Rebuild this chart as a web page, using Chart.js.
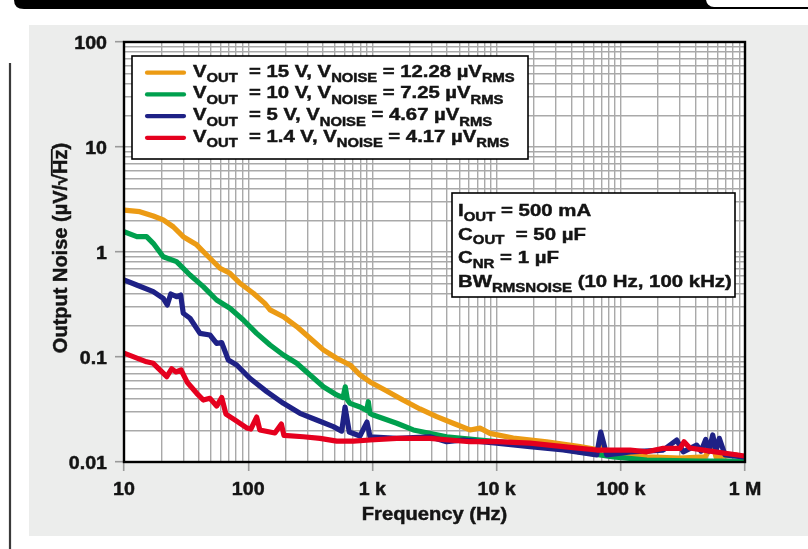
<!DOCTYPE html>
<html>
<head>
<meta charset="utf-8">
<script src="https://cdn.jsdelivr.net/npm/chart.js@4.4.1/dist/chart.umd.min.js"></script>
<style>
html, body { margin: 0; padding: 0; background: #fff; }
canvas { display: block; }
</style>
</head>
<body>
<canvas id="noiseChart" width="808" height="549"></canvas>
<script>
// 축 눈금
const xTickValues = [10, 100, 1e3, 1e4, 1e5, 1e6];
const xTickLabels = ['10', '100', '1 k', '10 k', '100 k', '1 M'];
const yTickValues = [0.01, 0.1, 1, 10, 100];
const yTickLabels = ['0.01', '0.1', '1', '10', '100'];

// VOUT = 15 V
const freq15 = [10, 13.4, 17.2, 20.7, 24.9, 30, 38.5, 46.3, 59.3, 71.3, 85.9, 110, 136, 150, 192, 246, 315, 403, 516, 661, 795, 957, 1262, 1762, 2415, 3294, 4624, 6109, 7350, 8847, 13600, 25300, 46900, 68000, 70000, 72000, 98600, 163000, 300000, 477000, 552000, 584000, 847000, 1000000];
const noise15 = [2.51, 2.42, 2.20, 2.02, 1.74, 1.40, 1.17, 0.936, 0.70, 0.627, 0.504, 0.405, 0.324, 0.281, 0.242, 0.195, 0.151, 0.117, 0.0973, 0.084, 0.0675, 0.0578, 0.0485, 0.0389, 0.032, 0.027, 0.023, 0.0202, 0.021, 0.01875, 0.0169, 0.0156, 0.014, 0.013, 0.0162, 0.0131, 0.0122, 0.0112, 0.0109, 0.0112, 0.0148, 0.0112, 0.0117, 0.0109];

// VOUT = 10 V
const freq10 = [10, 12.7, 15.2, 17.2, 20.7, 26.5, 34, 43.5, 55.7, 71.3, 91.4, 117, 150, 192, 246, 315, 403, 516, 580, 605, 630, 661, 795, 900, 927, 955, 1016, 1570, 2135, 3960, 7350, 13600, 25300, 46900, 87000, 162000, 434000, 1000000];
const noise10 = [1.56, 1.40, 1.40, 1.21, 0.90, 0.81, 0.604, 0.468, 0.349, 0.291, 0.225, 0.168, 0.130, 0.1045, 0.0871, 0.0675, 0.0521, 0.0435, 0.041, 0.052, 0.039, 0.0362, 0.0334, 0.031, 0.0375, 0.029, 0.028, 0.0234, 0.0202, 0.0174, 0.0162, 0.0151, 0.014, 0.0125, 0.0112, 0.01045, 0.0102, 0.0102];

// VOUT = 5 V
const freq5 = [10, 12.65, 17.2, 20.7, 22.3, 23.8, 26.5, 28.6, 30, 34, 40.9, 49.2, 55.7, 61.2, 69.2, 80.8, 103, 141, 192, 261, 356, 485, 566, 602, 651, 795, 904, 957, 1570, 2910, 3960, 5395, 10000, 18600, 34400, 64000, 68900, 77000, 119000, 220000, 282000, 318000, 408000, 443000, 483000, 513000, 550000, 584000, 621000, 690000, 968000];
const noise5 = [0.541, 0.485, 0.419, 0.362, 0.313, 0.398, 0.375, 0.389, 0.261, 0.234, 0.168, 0.162, 0.135, 0.137, 0.0935, 0.084, 0.0627, 0.0468, 0.0362, 0.0291, 0.0251, 0.0217, 0.0197, 0.0334, 0.0193, 0.0177, 0.024, 0.0174, 0.0168, 0.0174, 0.0156, 0.0162, 0.0151, 0.014, 0.013, 0.0117, 0.0193, 0.0117, 0.0125, 0.013, 0.0162, 0.0125, 0.0145, 0.0127, 0.0164, 0.0127, 0.0181, 0.0127, 0.0168, 0.0117, 0.0112];

// VOUT = 1.4 V
const freq1p4 = [10, 15.2, 17.2, 22.1, 24.2, 26.2, 28.8, 32.4, 38.5, 43.5, 49.2, 55.7, 61.2, 66.2, 80.8, 97.2, 105, 117, 124, 164, 185, 194, 278, 379, 516, 702, 957, 1570, 2910, 6109, 10000, 18600, 34400, 64000, 119000, 162000, 220000, 300000, 323000, 360000, 522000, 1000000];
const noise1p4 = [0.109, 0.090, 0.0871, 0.0649, 0.0773, 0.072, 0.0752, 0.0571, 0.0451, 0.0389, 0.0404, 0.0341, 0.0411, 0.0286, 0.0245, 0.0211, 0.0206, 0.0268, 0.0202, 0.0189, 0.023, 0.0179, 0.0174, 0.0168, 0.0158, 0.0158, 0.0162, 0.0168, 0.0168, 0.0156, 0.0156, 0.0151, 0.014, 0.013, 0.013, 0.0125, 0.0135, 0.0135, 0.0156, 0.0136, 0.0127, 0.0114];

// 범례 (위에서부터)
const legendVout = ['15 V', '10 V', '5 V', '1.4 V'];
const legendVnoise = ['12.28', '7.25', '4.67', '4.17'];
const legendColors = ['#ec9b14', '#00a04e', '#1e2186', '#e5001e'];

// 조건 박스
const conditionRows = [
    [['I', 0], ['OUT', 1], [' = 500 mA', 0]],
    [['C', 0], ['OUT', 1], ['  = 50 µF', 0]],
    [['C', 0], ['NR', 1], [' = 1 µF', 0]],
    [['BW', 0], ['RMSNOISE', 1], [' (10 Hz, 100 kHz)', 0]]
];

const FONT = '"Liberation Sans", Arial, sans-serif';
const TEXT = '#141414';

function toPoints(xs, ys) {
    return xs.map((x, i) => ({ x: x, y: ys[i] }));
}

function logTicks(min, max) {
    const ticks = [];
    for (let e = Math.round(Math.log10(min)); e < Math.round(Math.log10(max)); e++) {
        for (let m = 1; m < 10; m++) ticks.push({ value: m * Math.pow(10, e) });
    }
    ticks.push({ value: max });
    return ticks;
}

function isDecade(v) {
    const l = Math.log10(v);
    return Math.abs(l - Math.round(l)) < 1e-9;
}

// 가로로 약간 늘린 굵은 글자
function paintText(ctx, str) {
    ctx.fillText(str, 0, 0);
    ctx.strokeStyle = ctx.fillStyle;
    ctx.lineWidth = 0.45;
    ctx.strokeText(str, 0, 0);
}

function stretchText(ctx, str, x, y, font, align, hs) {
    ctx.save();
    ctx.font = font;
    ctx.textAlign = align;
    ctx.textBaseline = 'alphabetic';
    ctx.translate(x, y);
    ctx.scale(hs, 1);
    paintText(ctx, str);
    ctx.restore();
}

function richText(ctx, segs, x, y, mainFont, subFont, subDy, hs) {
    let cx = x;
    segs.forEach(([t, sub]) => {
        ctx.save();
        ctx.font = sub ? subFont : mainFont;
        ctx.textAlign = 'left';
        ctx.textBaseline = 'alphabetic';
        const w = ctx.measureText(t).width * hs;
        ctx.translate(cx, y + (sub ? subDy : 0));
        ctx.scale(hs, 1);
        paintText(ctx, t);
        ctx.restore();
        cx += w;
    });
}

const gridColor = '#a9a9a9';
const tickColor = ctx => (ctx.tick && isDecade(ctx.tick.value)) ? '#9a9a9a' : 'rgba(0,0,0,0)';

const framePlugin = {
    id: 'frame',
    beforeDraw(chart) {
        const ctx = chart.ctx;
        const a = chart.chartArea;
        ctx.save();
        ctx.fillStyle = '#fff';
        ctx.fillRect(0, 0, 808, 549);
        // 상단 검은 띠
        ctx.fillStyle = '#000';
        ctx.beginPath();
        ctx.moveTo(14, 0);
        ctx.lineTo(808, 0);
        ctx.lineTo(808, 9);
        ctx.lineTo(24, 9);
        ctx.quadraticCurveTo(14, 9, 14, 0);
        ctx.fill();
        ctx.fillStyle = '#fff';
        ctx.beginPath();
        ctx.roundRect(706, -12, 120, 19, 8);
        ctx.fill();
        // 회색 패널
        ctx.fillStyle = '#ecedec';
        ctx.fillRect(29, 25, 779, 511);
        // 왼쪽 세로선
        ctx.strokeStyle = '#3a3a3a';
        ctx.lineWidth = 2.2;
        ctx.beginPath();
        ctx.moveTo(10, 63);
        ctx.lineTo(10, 549);
        ctx.stroke();
        // 플롯 영역
        ctx.fillStyle = '#fff';
        ctx.fillRect(a.left, a.top, a.right - a.left, a.bottom - a.top);
        ctx.restore();
    },
    afterDraw(chart) {
        const ctx = chart.ctx;
        const a = chart.chartArea;
        const xs = chart.scales.x, ys = chart.scales.y;
        ctx.save();
        // 테두리
        ctx.strokeStyle = '#000';
        ctx.lineWidth = 2.4;
        ctx.strokeRect(a.left, a.top, a.right - a.left, a.bottom - a.top);

        ctx.fillStyle = TEXT;
        const tickFont = 'bold 17.5px ' + FONT;
        yTickValues.forEach((v, i) => {
            stretchText(ctx, yTickLabels[i], 107, ys.getPixelForValue(v) + 7, tickFont, 'right', 1.12);
        });
        xTickValues.forEach((v, i) => {
            stretchText(ctx, xTickLabels[i], xs.getPixelForValue(v), 495, tickFont, 'center', 1.12);
        });
        stretchText(ctx, 'Frequency (Hz)', (a.left + a.right) / 2, 520, tickFont, 'center', 1.15);

        // 세로축 제목 (√ 위 가로줄)
        ctx.save();
        ctx.translate(67, 248);
        ctx.rotate(-Math.PI / 2);
        ctx.font = 'bold 20px ' + FONT;
        ctx.textAlign = 'left';
        ctx.textBaseline = 'alphabetic';
        const pre = 'Output Noise (µV/√', hz = 'Hz', post = ')';
        const wPre = ctx.measureText(pre).width;
        const wHz = ctx.measureText(hz).width;
        const wPost = ctx.measureText(post).width;
        const x0 = -(wPre + wHz + wPost) / 2;
        ctx.fillStyle = TEXT;
        ctx.strokeStyle = TEXT;
        ctx.lineWidth = 0.45;
        [[pre, x0], [hz, x0 + wPre], [post, x0 + wPre + wHz]].forEach(([t, px]) => {
            ctx.fillText(t, px, 0);
            ctx.strokeText(t, px, 0);
        });
        const rootTop = Math.max(ctx.measureText('√').actualBoundingBoxAscent, 16);
        ctx.lineWidth = 1.8;
        ctx.beginPath();
        ctx.moveTo(x0 + wPre - 1.5, -rootTop + 0.8);
        ctx.lineTo(x0 + wPre + wHz + 0.5, -rootTop + 0.8);
        ctx.stroke();
        ctx.restore();

        // 범례
        ctx.fillStyle = '#fff';
        ctx.fillRect(132, 56, 396, 103);
        ctx.strokeStyle = '#000';
        ctx.lineWidth = 1.6;
        ctx.strokeRect(132, 56, 396, 103);
        const legFont = 'bold 16.5px ' + FONT;
        const legSub = 'bold 12px ' + FONT;
        legendVout.forEach((vo, i) => {
            const base = 76.7 + i * 21.7;
            ctx.strokeStyle = legendColors[i];
            ctx.lineWidth = 4.2;
            ctx.lineCap = 'round';
            ctx.beginPath();
            ctx.moveTo(147, base - 4);
            ctx.lineTo(184, base - 4);
            ctx.stroke();
            ctx.fillStyle = TEXT;
            richText(ctx, [['V', 0], ['OUT', 1], ['  = ' + vo + ', V', 0], ['NOISE', 1], [' = ' + legendVnoise[i] + ' µV', 0], ['RMS', 1]],
                193, base, legFont, legSub, 5.5, 1.23);
        });

        // 조건 박스
        ctx.fillStyle = '#fff';
        ctx.fillRect(452, 193, 283, 104);
        ctx.strokeStyle = '#000';
        ctx.lineWidth = 1.6;
        ctx.strokeRect(452, 193, 283, 104);
        ctx.fillStyle = TEXT;
        conditionRows.forEach((row, i) => {
            richText(ctx, row, 458, 216 + i * 23.7, 'bold 17px ' + FONT, 'bold 12.5px ' + FONT, 4.5, 1.2);
        });
        ctx.restore();
    }
};

new Chart(document.getElementById('noiseChart'), {
    type: 'line',
    data: {
        datasets: [
            { label: '1.4 V', data: toPoints(freq1p4, noise1p4), borderColor: legendColors[3] },
            { label: '5 V', data: toPoints(freq5, noise5), borderColor: legendColors[2] },
            { label: '10 V', data: toPoints(freq10, noise10), borderColor: legendColors[1] },
            { label: '15 V', data: toPoints(freq15, noise15), borderColor: legendColors[0] }
        ]
    },
    options: {
        responsive: false,
        animation: false,
        layout: { padding: { left: 0, top: 42, right: 63, bottom: 0 } },
        elements: {
            line: { borderWidth: 5.2, tension: 0, borderJoinStyle: 'round', borderCapStyle: 'round', fill: false },
            point: { radius: 0, hoverRadius: 0 }
        },
        scales: {
            x: {
                type: 'logarithmic',
                min: 10,
                max: 1e6,
                afterBuildTicks: s => { s.ticks = logTicks(10, 1e6); },
                afterFit: s => { s.height = 87; s.paddingLeft = s.paddingRight = s.paddingTop = s.paddingBottom = 0; },
                ticks: { display: false, autoSkip: false },
                grid: { color: gridColor, lineWidth: 1.4, tickLength: 9, tickColor: tickColor, tickWidth: 1.6 },
                border: { display: false }
            },
            y: {
                type: 'logarithmic',
                min: 0.01,
                max: 100,
                afterBuildTicks: s => { s.ticks = logTicks(0.01, 100); },
                afterFit: s => { s.width = 124; s.paddingLeft = s.paddingRight = s.paddingTop = s.paddingBottom = 0; },
                ticks: { display: false, autoSkip: false },
                grid: { color: gridColor, lineWidth: 1.4, tickLength: 9, tickColor: tickColor, tickWidth: 1.6 },
                border: { display: false }
            }
        },
        plugins: {
            legend: { display: false },
            tooltip: { enabled: false }
        }
    },
    plugins: [framePlugin]
});
</script>
</body>
</html>
